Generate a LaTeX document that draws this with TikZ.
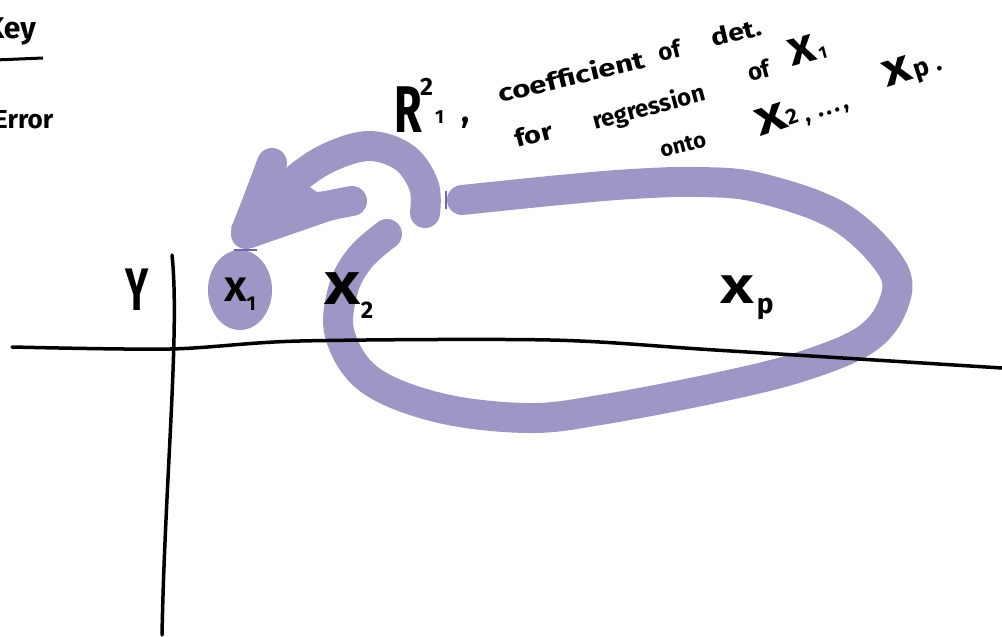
\documentclass[tikz,border=0pt]{standalone}
\usepackage{fontspec}
\setmainfont{Fira Sans}
\definecolor{purp}{RGB}{157,151,198}
\definecolor{seam}{RGB}{110,102,176}
\newcommand\fsz[1]{\fontsize{#1}{#1}\selectfont}
\newcommand\wideX[1]{\scalebox{#1}[1]{X}}
\begin{document}
\begin{tikzpicture}[x=1pt,y=-1pt,
  marker/.style={draw=purp,line width=30pt,line cap=round,line join=round},
  axisline/.style={draw=black,line width=3.5pt,line cap=round},
  lbl/.style={inner sep=0pt,font=\bfseries},
  word/.style={inner sep=0pt,anchor=base west,font=\bfseries\fsz{24}}]
\useasboundingbox (0,0) rectangle (1002,637);
\clip (0,0) rectangle (1002,637);
% purple loop around X2 ... Xp
\draw[marker] plot[smooth,tension=0.6] coordinates {(462,200) (560,190) (632,184) (700,182) (760,188) (840,217) (892,268) (893,305) (865,340) (800,367) (715,388) (600,410) (528,418) (440,408) (370,380) (340,335) (343,290) (360,258) (387,234)};
% arrow to X1
\draw[marker] plot[smooth,tension=0.6] coordinates {(425,213) (424,186) (405,158) (370,146) (330,157) (295,180) (265,212) (247,233)};
\draw[marker] (272,163) -- (246,233);
\draw[marker] (352,201) .. controls (310,208) and (275,222) .. (246,234);
\fill[purp] (258,160) -- (288,172) -- (317,192) -- (350,188) -- (350,214) -- (252,248) -- (231,228) -- cycle;
% X1 blob
\fill[purp] (240,290) ellipse [x radius=32pt,y radius=40pt];
\draw[seam,line width=1.5pt] (234,250) -- (257,250);
\draw[seam,line width=1.5pt] (446,191) -- (446,209);
% axes
\draw[axisline] (172,255) .. controls (180,330) and (165,480) .. (162,635);
\draw[axisline] plot[smooth] coordinates {(12,347) (170,349) (300,341) (550,340) (715,350) (1002,368)};
% key corner
\node[lbl,anchor=base east,font=\bfseries\fsz{30}] (key) at (36,38) {Key};
\draw[line width=3pt] (-5,60) -- (43,58);
\node[lbl,anchor=base west,font=\bfseries\fsz{26}] (err) at (-6,128) {Error};
% variable labels
\node[lbl] (y) at (137,290) {\fsz{60}\scalebox{0.65}[1]{Y}};
\node[lbl] (x1) at (240,294) {\fsz{34}\wideX{1.15}\raisebox{-9pt}{\fsz{20}1}};
\node[lbl] (x2) at (349,296) {\fsz{46}\wideX{1.35}\raisebox{-14pt}{\fsz{24}2}};
\node[lbl] (xp) at (747,298) {\fsz{40}\wideX{1.45}\hspace{3pt}\raisebox{-10pt}{\fsz{28}p}};
% annotation
\node[lbl,anchor=base west] (r) at (394,132) {\fsz{66}\scalebox{0.68}[1]{R}};
\node[lbl,anchor=base west] (rsup) at (420,95) {\fsz{25}2};
\node[lbl,anchor=base west] (rsub) at (435,123) {\fsz{19}1};
\node[lbl,anchor=base west] (rcomma) at (461,122) {\fsz{34},};
\node[word,rotate=13.5] (w1) at (500,103) {\scalebox{1.3}[1]{coefficient}};
\node[word,rotate=13.5] (w2) at (660,62) {of};
\node[word,rotate=13.5] (w3) at (713,47) {\scalebox{1.2}[1]{det.}};
\node[word,rotate=15] (w4) at (517,148) {\scalebox{1.2}[1]{for}};
\node[word,rotate=15] (w5) at (595,130) {regression};
\node[word,rotate=15] (w6) at (750,82) {of};
\node[word,rotate=15] (w7) at (792,67) {\fsz{38}\wideX{1.2}\hspace{3pt}\fsz{17}1};
\node[word,rotate=14] (w8) at (662,158) {\fsz{22}onto};
\node[word,rotate=18] (w9) at (760,137) {\fsz{38}\wideX{1.4}\hspace{0pt}\raisebox{2pt}{\fsz{22}2}\fsz{24}\hspace{6pt},\hspace{8pt}.\hspace{3pt}.\hspace{3pt}.\hspace{3pt},};
\node[word,rotate=18] (w10) at (887,88) {\fsz{36}\wideX{1.35}\hspace{3pt}\raisebox{0pt}{\fsz{26}p}\fsz{26}\hspace{6pt}.};
\end{tikzpicture}
\end{document}
